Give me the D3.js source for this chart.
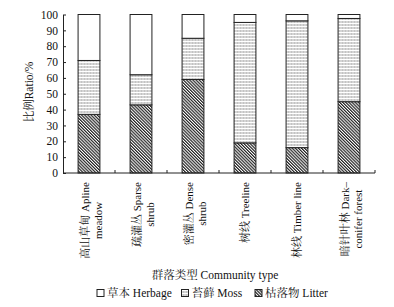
<!DOCTYPE html>
<html>
<head>
<meta charset="utf-8">
<script src="https://cdn.jsdelivr.net/npm/d3@7"></script>
<style>
  body { margin: 0; background: #fff; }
  svg text { font-family: "Liberation Serif", "Noto Serif CJK SC", "Noto Sans CJK SC", serif; fill: #111; }
</style>
</head>
<body>
<div id="chart"></div>
<script>
// community types (label lines)
const categories = ["alpine", "sparse", "dense", "treeline", "timber", "conifer"];
const labelLines = [
  ["高山草甸 Apline", "meadow"],
  ["疏灌丛 Sparse", "shrub"],
  ["密灌丛 Dense", "shrub"],
  ["树线 Treeline"],
  ["林线 Timber line"],
  ["暗针叶林 Dark–", "conifer forest"]
];
// ratios (%), stacked bottom to top: litter, moss, herbage
const litter = [37, 43, 59, 19, 16, 45];
const moss = [34, 19, 26, 76, 80, 52.5];
const herbage = litter.map((d, i) => 100 - d - moss[i]);
const yTicks = [0, 10, 20, 30, 40, 50, 60, 70, 80, 90, 100];
const seriesKeys = ["litter", "moss", "herbage"];
const legendLabels = { herbage: "草本 Herbage", moss: "苔藓 Moss", litter: "枯落物 Litter" };

const W = 394, H = 307;
const svg = d3.select("#chart").append("svg").attr("width", W).attr("height", H);

// patterns
const defs = svg.append("defs");
const pMoss = defs.append("pattern").attr("id", "pat-moss")
  .attr("patternUnits", "userSpaceOnUse").attr("width", 3).attr("height", 3);
pMoss.append("rect").attr("width", 3).attr("height", 3).attr("fill", "#fff");
pMoss.append("line").attr("x1", 0).attr("x2", 3).attr("y1", 1).attr("y2", 1)
  .attr("stroke", "#888").attr("stroke-width", 1.2).attr("stroke-dasharray", "1.2,0.3");
const pLit = defs.append("pattern").attr("id", "pat-litter")
  .attr("patternUnits", "userSpaceOnUse").attr("width", 2.2).attr("height", 2.2)
  .attr("patternTransform", "rotate(-45)");
pLit.append("rect").attr("width", 2.2).attr("height", 2.2).attr("fill", "#fff");
pLit.append("line").attr("x1", 0.6).attr("x2", 0.6).attr("y1", 0).attr("y2", 2.2)
  .attr("stroke", "#111").attr("stroke-width", 1.1);

const fills = { herbage: "#fff", moss: "url(#pat-moss)", litter: "url(#pat-litter)" };

const x = d3.scaleBand().domain(categories).range([63, 375])
  .paddingInner(0.58).paddingOuter(0.29);
const y = d3.scaleLinear().domain([0, 100]).range([173, 14.5]);

const table = categories.map((c, i) => ({ cat: c, litter: litter[i], moss: moss[i], herbage: herbage[i] }));
const stacked = d3.stack().keys(seriesKeys)(table);

// bars
svg.append("g").selectAll("g").data(stacked).join("g")
  .attr("fill", d => fills[d.key])
  .selectAll("rect").data(d => d).join("rect")
  .attr("x", d => x(d.data.cat))
  .attr("y", d => y(d[1]))
  .attr("width", x.bandwidth())
  .attr("height", d => y(d[0]) - y(d[1]))
  .attr("stroke", "#222").attr("stroke-width", 1);

// y axis
const yAxis = svg.append("g").attr("transform", "translate(63,0)")
  .call(d3.axisLeft(y).tickValues(yTicks).tickSizeInner(-3).tickSizeOuter(0).tickPadding(5));
yAxis.select(".domain").attr("stroke", "#222");
yAxis.selectAll(".tick line").attr("stroke", "#222");
yAxis.selectAll("text").style("font-size", "11.5px").attr("fill", "#111");

// x axis with ticks at category boundaries
const gap = x.step() - x.bandwidth();
const bounds = categories.map(c => x(c) - gap / 2).concat([x.range()[1]]);
const xAxis = svg.append("g");
xAxis.append("line").attr("x1", 63).attr("x2", 375).attr("y1", y(0)).attr("y2", y(0))
  .attr("stroke", "#222");
xAxis.selectAll("line.tk").data(bounds.slice(1)).join("line").attr("class", "tk")
  .attr("x1", d => d).attr("x2", d => d).attr("y1", y(0)).attr("y2", y(0) - 3)
  .attr("stroke", "#222");

// category labels (rotated)
const labelTop = 182;
categories.forEach((c, i) => {
  const cx = x(c) + x.bandwidth() / 2;
  const lines = labelLines[i];
  const g = svg.append("g");
  const off = lines.length > 1 ? [-4, 9] : [0];
  const t1 = g.append("text")
    .attr("transform", `translate(${cx + off[0]},${labelTop}) rotate(-90)`)
    .attr("text-anchor", "end").attr("dominant-baseline", "central")
    .style("font-size", "11px").text(lines[0]);
  if (lines.length > 1) {
    const len = t1.node().getComputedTextLength();
    g.append("text")
      .attr("transform", `translate(${cx + off[1]},${labelTop + len / 2}) rotate(-90)`)
      .attr("text-anchor", "middle").attr("dominant-baseline", "central")
      .style("font-size", "11px").text(lines[1]);
  }
});

// axis titles
svg.append("text").attr("x", 215).attr("y", 279).attr("text-anchor", "middle")
  .style("font-size", "11.5px").text("群落类型 Community type");
svg.append("text").attr("transform", "translate(33,92) rotate(-90)")
  .attr("text-anchor", "middle").style("font-size", "11.5px").text("比例Ratio/%");

// legend
const legendKeys = ["herbage", "moss", "litter"];
const legendX = [97, 181.5, 255];
const legend = svg.append("g");
legendKeys.forEach((k, i) => {
  legend.append("rect").attr("x", legendX[i]).attr("y", 289.5).attr("width", 7).attr("height", 7)
    .attr("fill", fills[k]).attr("stroke", "#222").attr("stroke-width", 1);
  legend.append("text").attr("x", legendX[i] + 10).attr("y", 297)
    .style("font-size", "11.5px").text(legendLabels[k]);
});
</script>
</body>
</html>
